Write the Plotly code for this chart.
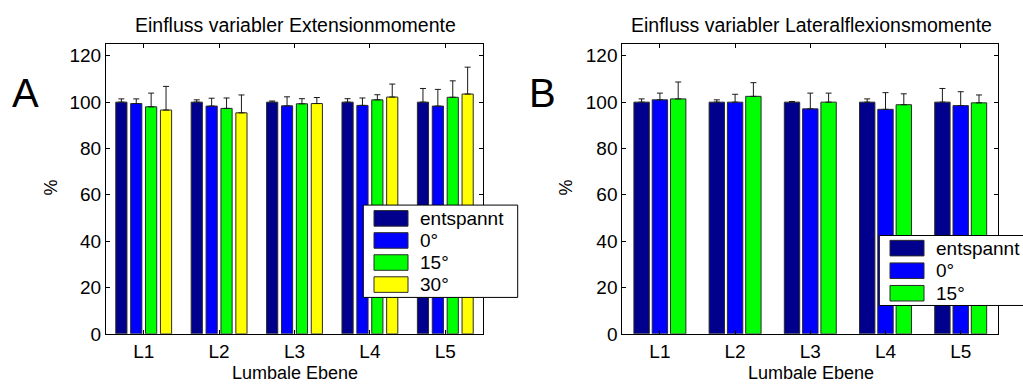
import plotly.graph_objects as go

# Lumbar levels
levels = ["L1", "L2", "L3", "L4", "L5"]

# Extension moments (% of relaxed state), mean and upper std
ext_names = ["entspannt", "0°", "15°", "30°"]
ext_relaxed = [100.0, 100.0, 100.0, 100.0, 100.0]
ext_relaxed_err = [1.4, 1.0, 0.5, 1.5, 5.9]
ext_0 = [99.4, 98.3, 98.4, 98.6, 98.3]
ext_0_err = [2.0, 3.4, 3.9, 3.2, 7.2]
ext_15 = [98.0, 97.3, 99.3, 101.0, 102.1]
ext_15_err = [5.9, 4.5, 2.2, 2.2, 7.1]
ext_30 = [96.6, 95.4, 99.4, 102.2, 103.5]
ext_30_err = [10.2, 7.7, 2.6, 5.6, 11.6]

# Lateral flexion moments (% of relaxed state), mean and upper std
lat_names = ["entspannt", "0°", "15°"]
lat_relaxed = [100.0, 100.0, 100.0, 100.0, 100.0]
lat_relaxed_err = [1.4, 1.0, 0.3, 1.4, 5.9]
lat_0 = [101.0, 100.0, 97.1, 96.9, 98.5]
lat_0_err = [2.9, 3.4, 6.8, 7.2, 6.0]
lat_15 = [101.4, 102.5, 100.0, 98.9, 99.7]
lat_15_err = [7.3, 5.9, 3.9, 4.7, 3.4]

colors = ["#00008c", "#0000ff", "#00ff00", "#ffff00"]
yticks = [0, 20, 40, 60, 80, 100, 120]

W, H = 1023, 392
FONT = "Liberation Sans, Arial, Helvetica, sans-serif"


def px(x):
    return x / W


def py(y):
    return 1 - y / H


fig = go.Figure()
xpos = list(range(1, len(levels) + 1))


def add_group(series, errors, names, xa, ya, group_width, bar_frac):
    n = len(series)
    slot = group_width / n
    bw = slot * bar_frac
    for i, (vals, errs, name) in enumerate(zip(series, errors, names)):
        offset = -group_width / 2 + i * slot + (slot - bw) / 2
        fig.add_trace(go.Bar(
            x=xpos, y=vals, name=name, xaxis=xa, yaxis=ya,
            width=bw, offset=offset,
            marker=dict(color=colors[i], line=dict(color="#2a2a2a", width=1)),
            error_y=dict(type="data", array=errs, arrayminus=[0] * len(errs),
                         symmetric=False, color="#1a1a1a", thickness=1, width=3),
            showlegend=False,
        ))


add_group([ext_relaxed, ext_0, ext_15, ext_30],
          [ext_relaxed_err, ext_0_err, ext_15_err, ext_30_err],
          ext_names, "x", "y", 0.79, 0.75)
add_group([lat_relaxed, lat_0, lat_15],
          [lat_relaxed_err, lat_0_err, lat_15_err],
          lat_names, "x2", "y2", 0.73, 0.84)

axis_common = dict(
    showline=True, linecolor="black", linewidth=1, mirror="ticks",
    ticks="inside", ticklen=4, tickcolor="black", showgrid=False,
    zeroline=False, tickfont=dict(family=FONT, size=19, color="black"),
)

y_bottom, y_top = 343.5, 45.5
fig.update_layout(
    width=W, height=H, margin=dict(l=0, r=0, t=0, b=0),
    paper_bgcolor="white", plot_bgcolor="white",
    barmode="overlay", showlegend=False,
    xaxis=dict(domain=[px(106), px(483)], range=[0.5, 5.5], tickvals=xpos,
               ticktext=levels, anchor="y", **axis_common),
    yaxis=dict(domain=[py(y_bottom), py(y_top)], range=[0, 125], tickvals=yticks,
               anchor="x", **axis_common),
    xaxis2=dict(domain=[px(622.3), px(998.3)], range=[0.5, 5.5], tickvals=xpos,
                ticktext=levels, anchor="y2", **axis_common),
    yaxis2=dict(domain=[py(y_bottom), py(y_top)], range=[0, 125], tickvals=yticks,
                anchor="x2", **axis_common),
)

annotations = []
shapes = []


def text(x, y, s, size, angle=0, xanchor="center"):
    annotations.append(dict(
        x=px(x), y=py(y), xref="paper", yref="paper", text=s, showarrow=False,
        xanchor=xanchor, yanchor="middle", textangle=angle,
        font=dict(family=FONT, size=size, color="black"),
    ))


# Titles, axis labels and panel letters
text(295, 26, "Einfluss variabler Extensionmomente", 19.5)
text(811, 26, "Einfluss variabler Lateralflexionsmomente", 19.5)
text(295, 384, "Lumbale Ebene", 18)
text(811, 384, "Lumbale Ebene", 18)
text(51, 193, "%", 18, angle=-90)
text(566, 193, "%", 18, angle=-90)
text(25, 96, "A", 40)
text(542, 96, "B", 40)


def legend_box(x0, y0, x1, y1, names, sw_x0, first_row, row_step, text_x):
    shapes.append(dict(type="rect", xref="paper", yref="paper",
                       x0=px(x0), x1=px(x1), y0=py(y1), y1=py(y0),
                       line=dict(color="black", width=1), fillcolor="white",
                       layer="above"))
    for i, name in enumerate(names):
        cy = first_row + i * row_step
        shapes.append(dict(type="rect", xref="paper", yref="paper",
                           x0=px(sw_x0), x1=px(sw_x0 + 34),
                           y0=py(cy + 8), y1=py(cy - 8),
                           line=dict(color="#2a2a2a", width=1),
                           fillcolor=colors[i], layer="above"))
        text(text_x, cy, name, 19, xanchor="left")


legend_box(363.3, 211, 517.7, 306, ext_names, 374, 224.7, 22.7, 418)
legend_box(879.3, 242.3, 1045, 314.3, lat_names, 890, 255.3, 23.2, 934)

fig.update_layout(annotations=annotations, shapes=shapes)
fig.write_html("out.html")
